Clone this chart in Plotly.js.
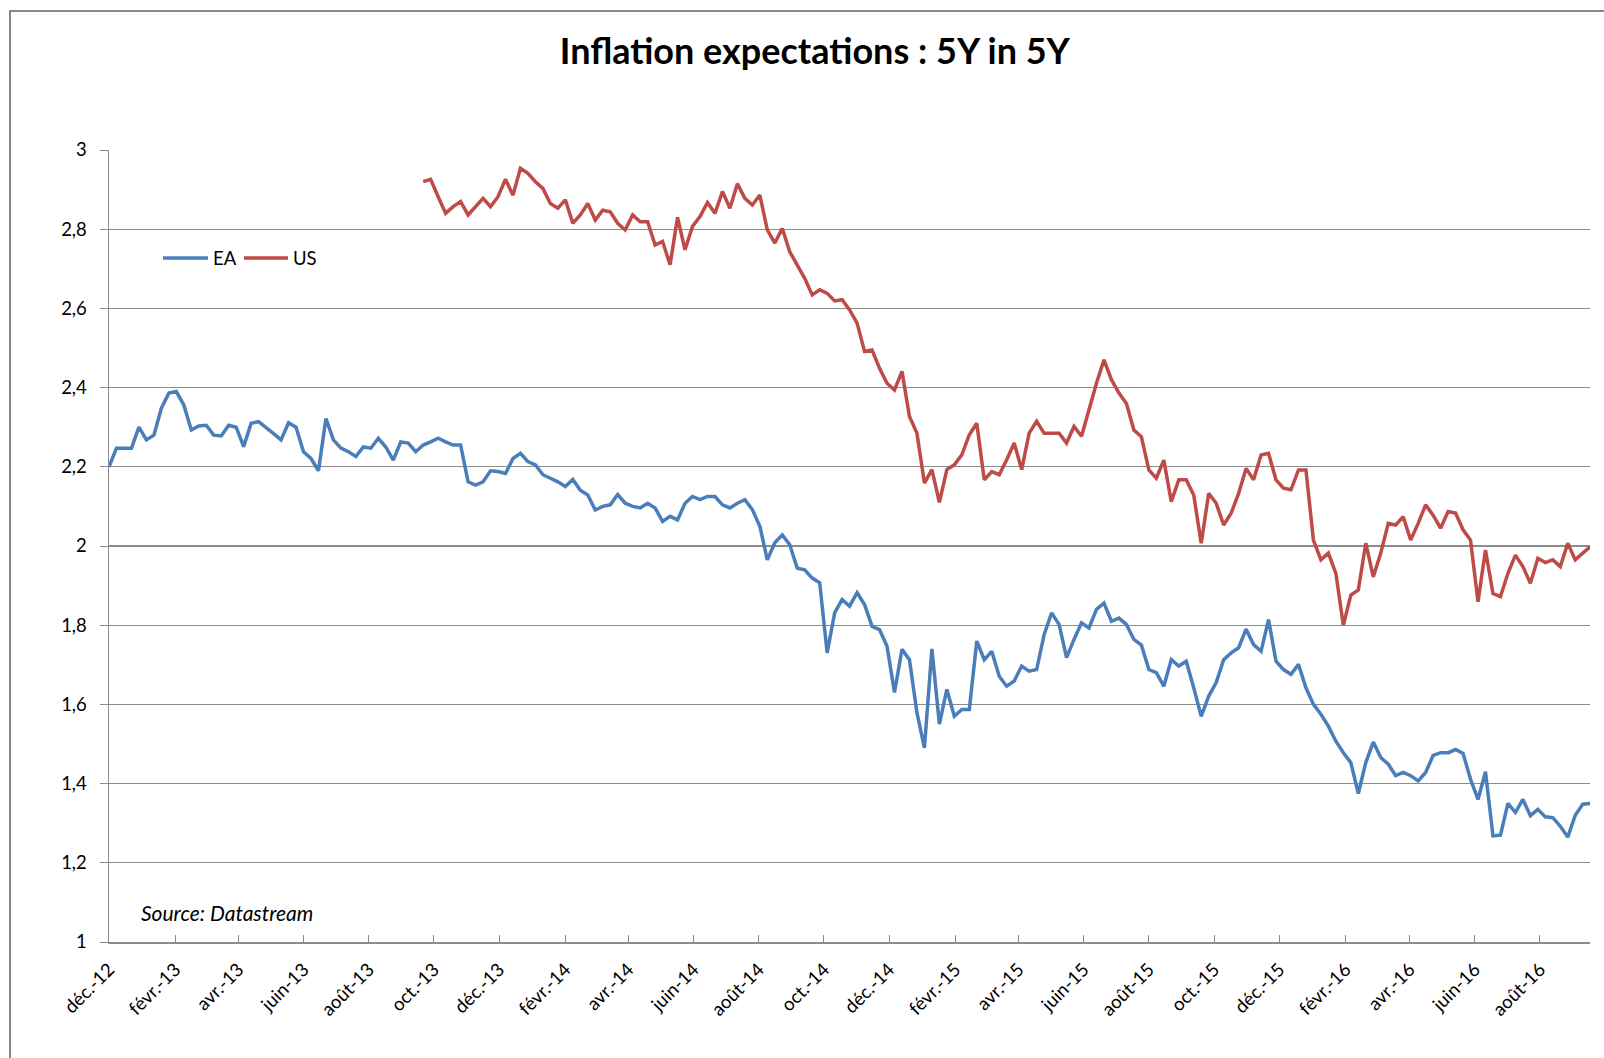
<!DOCTYPE html>
<html>
<head>
<meta charset="utf-8">
<script src="https://cdn.plot.ly/plotly-3.0.1.min.js"></script>
<style>
  html, body { margin: 0; padding: 0; background: #ffffff; }
  #chart { position: absolute; left: 0; top: 0; width: 1604px; height: 1058px; }
  #frame { position: absolute; left: 9px; top: 10px; width: 1700px; height: 1200px;
           border-left: 2px solid #888888; border-top: 2px solid #888888; pointer-events: none; }
</style>
</head>
<body>
<div id="chart"></div>
<div id="frame"></div>
<script>
// ---- Data (weekly readings) ----
const eaStart = '2012-12-01';
const usStart = '2013-09-21';
const stepDays = 7;
const seriesNames = ['EA', 'US'];

const eaValues = [
  2.20, 2.247, 2.247, 2.247, 2.30, 2.268, 2.28, 2.348, 2.386, 2.39,
  2.356, 2.293, 2.303, 2.305, 2.28, 2.278, 2.305, 2.30, 2.251, 2.31,
  2.314, 2.30, 2.284, 2.268, 2.311, 2.30, 2.238, 2.221, 2.19, 2.322,
  2.268, 2.247, 2.238, 2.226, 2.25, 2.247, 2.272, 2.25, 2.217, 2.263,
  2.26, 2.238, 2.255, 2.263, 2.272, 2.263, 2.255, 2.255, 2.162, 2.154,
  2.162, 2.19, 2.188, 2.183, 2.221, 2.234, 2.213, 2.205, 2.18, 2.171,
  2.162, 2.15, 2.168, 2.141, 2.129, 2.091, 2.10, 2.104, 2.13, 2.108,
  2.10, 2.096, 2.108, 2.096, 2.062, 2.075, 2.066, 2.108, 2.125, 2.117,
  2.125, 2.125, 2.104, 2.096, 2.108, 2.117, 2.092, 2.05, 1.965, 2.008,
  2.028, 2.003, 1.944, 1.94, 1.919, 1.907, 1.73, 1.831, 1.865, 1.848,
  1.882, 1.852, 1.797, 1.789, 1.747, 1.63, 1.739, 1.713, 1.579, 1.49,
  1.74, 1.55, 1.638, 1.57, 1.587, 1.587, 1.76, 1.713, 1.734, 1.671,
  1.646, 1.659, 1.697, 1.684, 1.688, 1.776, 1.831, 1.802, 1.718, 1.764,
  1.806, 1.793, 1.84, 1.856, 1.81, 1.818, 1.802, 1.764, 1.75, 1.688,
  1.68, 1.646, 1.713, 1.697, 1.709, 1.642, 1.57, 1.621, 1.655, 1.713,
  1.73, 1.743, 1.79, 1.751, 1.734, 1.814, 1.709, 1.688, 1.676, 1.701,
  1.642, 1.60, 1.575, 1.545, 1.507, 1.478, 1.453, 1.375, 1.453, 1.505,
  1.466, 1.449, 1.42, 1.428, 1.42, 1.407, 1.428, 1.471, 1.478, 1.478,
  1.486, 1.476, 1.411, 1.36, 1.43, 1.268, 1.27, 1.35, 1.327, 1.36,
  1.319, 1.335, 1.316, 1.314, 1.292, 1.265, 1.32, 1.348, 1.35
];

const usValues = [
  2.92, 2.926, 2.882, 2.84, 2.857, 2.87, 2.836, 2.857, 2.878, 2.857,
  2.882, 2.926, 2.886, 2.954, 2.941, 2.92, 2.903, 2.865, 2.853, 2.874,
  2.815, 2.836, 2.865, 2.823, 2.848, 2.844, 2.815, 2.798, 2.836, 2.819,
  2.819, 2.76, 2.769, 2.71, 2.83, 2.748, 2.807, 2.832, 2.867, 2.84,
  2.895, 2.853, 2.915, 2.878, 2.861, 2.886, 2.798, 2.765, 2.802, 2.743,
  2.71, 2.676, 2.634, 2.647, 2.638, 2.619, 2.622, 2.596, 2.563, 2.491,
  2.495, 2.449, 2.411, 2.394, 2.441, 2.327, 2.285, 2.159, 2.193, 2.11,
  2.193, 2.205, 2.23, 2.281, 2.31, 2.167, 2.188, 2.18, 2.218, 2.26,
  2.193, 2.285, 2.315, 2.285, 2.285, 2.285, 2.26, 2.302, 2.277, 2.348,
  2.411, 2.47, 2.42, 2.386, 2.36, 2.293, 2.276, 2.192, 2.171, 2.217,
  2.112, 2.167, 2.167, 2.129, 2.007, 2.133, 2.108, 2.053, 2.083, 2.133,
  2.196, 2.167, 2.23, 2.234, 2.167, 2.146, 2.142, 2.192, 2.192, 2.015,
  1.965, 1.982, 1.931, 1.80, 1.876, 1.889, 2.007, 1.922, 1.982, 2.057,
  2.053, 2.074, 2.015, 2.057, 2.104, 2.078, 2.045, 2.087, 2.083, 2.041,
  2.015, 1.859, 1.99, 1.88, 1.872, 1.931, 1.977, 1.948, 1.906, 1.969,
  1.958, 1.965, 1.948, 2.007, 1.965, 1.982, 1.998
];

const xTickVals = [
  '2012-12-01','2013-02-01','2013-04-01','2013-06-01','2013-08-01','2013-10-01',
  '2013-12-01','2014-02-01','2014-04-01','2014-06-01','2014-08-01','2014-10-01',
  '2014-12-01','2015-02-01','2015-04-01','2015-06-01','2015-08-01','2015-10-01',
  '2015-12-01','2016-02-01','2016-04-01','2016-06-01','2016-08-01'
];
const xTickText = [
  'déc.-12','févr.-13','avr.-13','juin-13','août-13','oct.-13',
  'déc.-13','févr.-14','avr.-14','juin-14','août-14','oct.-14',
  'déc.-14','févr.-15','avr.-15','juin-15','août-15','oct.-15',
  'déc.-15','févr.-16','avr.-16','juin-16','août-16'
];
const yTickVals = [1, 1.2, 1.4, 1.6, 1.8, 2, 2.2, 2.4, 2.6, 2.8, 3];
const yTickText = ['1', '1,2', '1,4', '1,6', '1,8', '2', '2,2', '2,4', '2,6', '2,8', '3'];

// weekly sampling grid for the readings
function weeklyDates(startISO, n) {
  const p = startISO.split('-').map(Number);
  const t0 = Date.UTC(p[0], p[1] - 1, p[2]);
  const out = [];
  for (let i = 0; i < n; i++) {
    out.push(new Date(t0 + i * stepDays * 86400000).toISOString().slice(0, 10));
  }
  return out;
}
const eaDates = weeklyDates(eaStart, eaValues.length);
const usDates = weeklyDates(usStart, usValues.length);

const FONT = 'Lato, "Open Sans", sans-serif';
const BLUE = '#4A7EBB';
const RED = '#BE4B48';

const traces = [
  { x: eaDates, y: eaValues, name: seriesNames[0], type: 'scatter', mode: 'lines',
    line: { color: BLUE, width: 3.5 } },
  { x: usDates, y: usValues, name: seriesNames[1], type: 'scatter', mode: 'lines',
    line: { color: RED, width: 3.5 } }
];

// plot-area pixel helpers for legend placement (paper coordinates)
const PL = 109, PW = 1481, PB = 942.5, PH = 792.5;
const px = v => (v - PL) / PW;
const py = v => (PB - v) / PH;

const layout = {
  width: 1604, height: 1058,
  margin: { l: 109, r: 14, t: 150, b: 115.5 },
  paper_bgcolor: '#ffffff', plot_bgcolor: '#ffffff',
  font: { family: FONT, color: '#000000', size: 18 },
  title: {
    text: '<b>Inflation expectations : 5Y in 5Y</b>',
    font: { family: FONT, size: 36, color: '#000000' },
    x: 0.508, xanchor: 'center', xref: 'container',
    y: 0.951, yanchor: 'middle', yref: 'container'
  },
  xaxis: {
    type: 'date',
    range: ['2012-12-01', '2016-09-16 19:00'],
    tickmode: 'array', tickvals: xTickVals, ticktext: xTickText,
    tickangle: -45,
    ticks: 'inside', ticklen: 7, tickwidth: 1, tickcolor: '#8c8c8c',
    showline: true, linecolor: '#8c8c8c', linewidth: 1.5,
    showgrid: false, zeroline: false,
    tickfont: { family: FONT, size: 18.5, color: '#000000' },
    ticklabelstandoff: 8
  },
  yaxis: {
    range: [1, 3],
    tickmode: 'array', tickvals: yTickVals, ticktext: yTickText,
    ticks: 'outside', ticklen: 8, tickwidth: 1, tickcolor: '#8c8c8c',
    showline: true, linecolor: '#8c8c8c', linewidth: 1.5,
    showgrid: true, gridcolor: '#8c8c8c', gridwidth: 1.2,
    zeroline: false,
    tickfont: { family: FONT, size: 18.5, color: '#000000' },
    ticklabelstandoff: 9
  },
  showlegend: false,
  shapes: [
    { type: 'line', xref: 'paper', yref: 'paper', x0: px(163), x1: px(208), y0: py(258), y1: py(258),
      line: { color: BLUE, width: 3.5 } },
    { type: 'line', xref: 'paper', yref: 'paper', x0: px(244), x1: px(288), y0: py(258), y1: py(258),
      line: { color: RED, width: 3.5 } }
  ],
  annotations: [
    { text: seriesNames[0], xref: 'paper', yref: 'paper', x: px(211), y: py(258),
      xanchor: 'left', yanchor: 'middle', showarrow: false,
      font: { family: FONT, size: 18.5, color: '#000000' } },
    { text: seriesNames[1], xref: 'paper', yref: 'paper', x: px(291), y: py(258),
      xanchor: 'left', yanchor: 'middle', showarrow: false,
      font: { family: FONT, size: 18.5, color: '#000000' } },
    { text: '<i>Source: Datastream</i>',
      xref: 'paper', yref: 'paper',
      x: px(139), y: py(913),
      xanchor: 'left', yanchor: 'middle',
      showarrow: false,
      font: { family: FONT, size: 21, color: '#000000' } }
  ]
};

Plotly.newPlot('chart', traces, layout, { displayModeBar: false, staticPlot: true });
</script>
</body>
</html>
